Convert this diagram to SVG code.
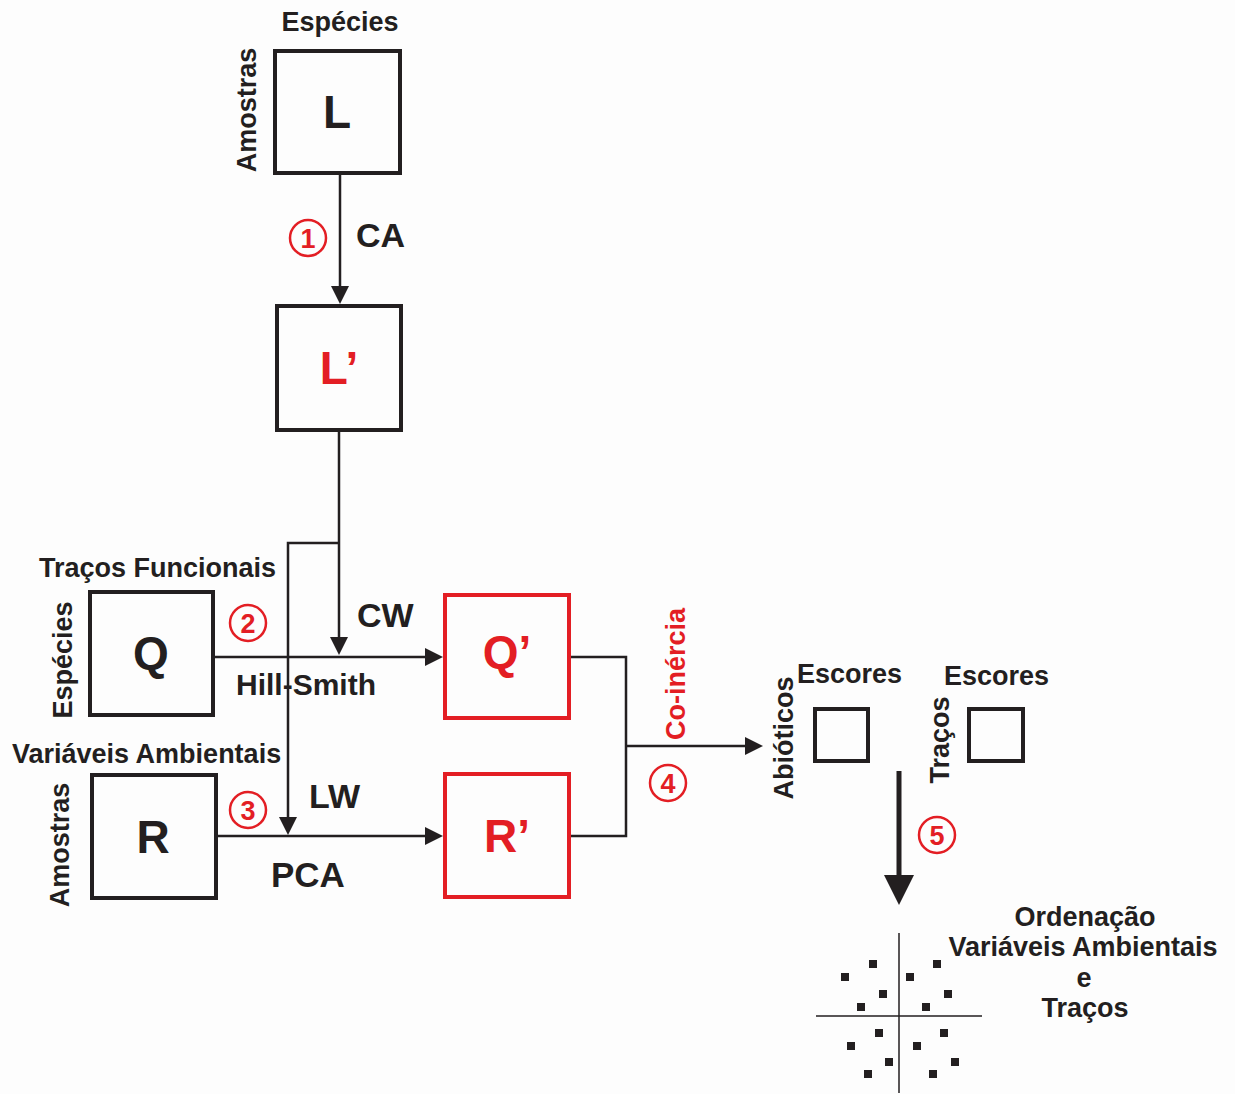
<svg xmlns="http://www.w3.org/2000/svg" width="1235" height="1094" viewBox="0 0 1235 1094">
<style>
text{font-family:"Liberation Sans",Arial,sans-serif;font-weight:bold;fill:#231f20}
.lbl{font-size:27px}
.big{font-size:46px;text-anchor:middle}
.op{font-size:34px}
.red{fill:#e31e24}
.box{fill:none;stroke:#231f20;stroke-width:4}
.rbox{fill:none;stroke:#e31e24;stroke-width:4}
.ln{fill:none;stroke:#231f20;stroke-width:2.5}
.num circle{fill:none;stroke:#e31e24;stroke-width:2.5}
.num text{font-size:27px;fill:#e31e24;text-anchor:middle}
.dot{fill:#231f20}
</style>
<defs>
<marker id="arr" markerUnits="userSpaceOnUse" markerWidth="18" markerHeight="18" refX="0" refY="9" orient="auto">
<path d="M0,0 L18,9 L0,18 z" fill="#231f20"/>
</marker>
<marker id="arrBig" markerUnits="userSpaceOnUse" markerWidth="30" markerHeight="30" refX="0" refY="15" orient="auto">
<path d="M0,0 L30,15 L0,30 z" fill="#231f20"/>
</marker>
</defs>
<rect width="1235" height="1094" fill="#fdfdfd"/>

<g id="connectors">
<path class="ln" d="M340,175 V286" marker-end="url(#arr)"/>
<path class="ln" d="M339,432 V637" marker-end="url(#arr)"/>
<path class="ln" d="M339,543 H288 V817" marker-end="url(#arr)"/>
<path class="ln" d="M215,657 H425" marker-end="url(#arr)"/>
<path class="ln" d="M218,836 H425" marker-end="url(#arr)"/>
<path class="ln" d="M570,657 H626 V836 H570"/>
<path class="ln" d="M626,746 H745" marker-end="url(#arr)"/>
<path class="ln" d="M899,771 V875" style="stroke-width:5" marker-end="url(#arrBig)"/>
</g>

<g id="L">
<rect class="box" x="275" y="51" width="125" height="122"/>
<text class="lbl" x="340" y="31" text-anchor="middle">Espécies</text>
<text class="lbl" transform="translate(256,110) rotate(-90)" text-anchor="middle">Amostras</text>
<text class="big" x="337" y="128">L</text>
</g>

<g id="step1" class="num">
<circle cx="308" cy="238" r="18"/>
<text x="308" y="248">1</text>
</g>
<text id="lblCA" class="op" x="356" y="247">CA</text>

<g id="Lp">
<rect class="box" x="277" y="306" width="124" height="124"/>
<text class="big red" x="339" y="384">L’</text>
</g>

<g id="Q">
<rect class="box" x="90" y="592" width="123" height="123"/>
<text class="lbl" x="39" y="577">Traços Funcionais</text>
<text class="lbl" transform="translate(72,660) rotate(-90)" text-anchor="middle">Espécies</text>
<text class="big" x="151" y="669">Q</text>
</g>

<g id="step2" class="num">
<circle cx="248" cy="623" r="18"/>
<text x="248" y="633">2</text>
</g>
<text id="lblCW" class="op" x="357" y="627">CW</text>
<text id="lblHS" class="lbl" x="236" y="695" style="font-size:30px">Hill-Smith</text>

<g id="R">
<rect class="box" x="92" y="775" width="124" height="123"/>
<text class="lbl" x="12" y="763">Variáveis Ambientais</text>
<text class="lbl" transform="translate(69,845) rotate(-90)" text-anchor="middle">Amostras</text>
<text class="big" x="153" y="853">R</text>
</g>

<g id="step3" class="num">
<circle cx="248" cy="810" r="18"/>
<text x="248" y="820">3</text>
</g>
<text id="lblLW" class="op" x="309" y="808">LW</text>
<text id="lblPCA" class="op" x="271" y="887" style="font-size:35px">PCA</text>

<g id="Qp">
<rect class="rbox" x="445" y="595" width="124" height="123"/>
<text class="big red" x="507" y="668">Q’</text>
</g>

<g id="Rp">
<rect class="rbox" x="445" y="774" width="124" height="123"/>
<text class="big red" x="507" y="852">R’</text>
</g>

<text id="lblCoin" class="lbl red" transform="translate(685,674) rotate(-90)" text-anchor="middle">Co-inércia</text>
<g id="step4" class="num">
<circle cx="668" cy="783" r="18"/>
<text x="668" y="793">4</text>
</g>

<g id="EscAbio">
<rect class="box" x="815" y="709" width="53" height="52"/>
<text class="lbl" x="797" y="683">Escores</text>
<text class="lbl" transform="translate(793,738) rotate(-90)" text-anchor="middle">Abióticos</text>
</g>

<g id="EscTracos">
<rect class="box" x="969" y="709" width="54" height="52"/>
<text class="lbl" x="944" y="685">Escores</text>
<text class="lbl" transform="translate(949,740) rotate(-90)" text-anchor="middle">Traços</text>
</g>

<g id="step5" class="num">
<circle cx="937" cy="835" r="18"/>
<text x="937" y="845">5</text>
</g>

<g id="ordination">
<path d="M899,933 V1093 M816,1016 H982" stroke="#231f20" stroke-width="1.5" fill="none"/>
<rect class="dot" x="869" y="960" width="8" height="8"/>
<rect class="dot" x="933" y="960" width="8" height="8"/>
<rect class="dot" x="841" y="973" width="8" height="8"/>
<rect class="dot" x="906" y="973" width="8" height="8"/>
<rect class="dot" x="879" y="990" width="8" height="8"/>
<rect class="dot" x="944" y="990" width="8" height="8"/>
<rect class="dot" x="857" y="1003" width="8" height="8"/>
<rect class="dot" x="922" y="1003" width="8" height="8"/>
<rect class="dot" x="875" y="1029" width="8" height="8"/>
<rect class="dot" x="940" y="1029" width="8" height="8"/>
<rect class="dot" x="847" y="1042" width="8" height="8"/>
<rect class="dot" x="913" y="1042" width="8" height="8"/>
<rect class="dot" x="885" y="1058" width="8" height="8"/>
<rect class="dot" x="951" y="1058" width="8" height="8"/>
<rect class="dot" x="864" y="1070" width="8" height="8"/>
<rect class="dot" x="929" y="1070" width="8" height="8"/>
<text class="lbl" text-anchor="middle" x="1085" y="926">Ordenação</text>
<text class="lbl" text-anchor="middle" x="1083" y="956">Variáveis Ambientais</text>
<text class="lbl" text-anchor="middle" x="1084" y="987">e</text>
<text class="lbl" text-anchor="middle" x="1085" y="1017">Traços</text>
</g>
</svg>
